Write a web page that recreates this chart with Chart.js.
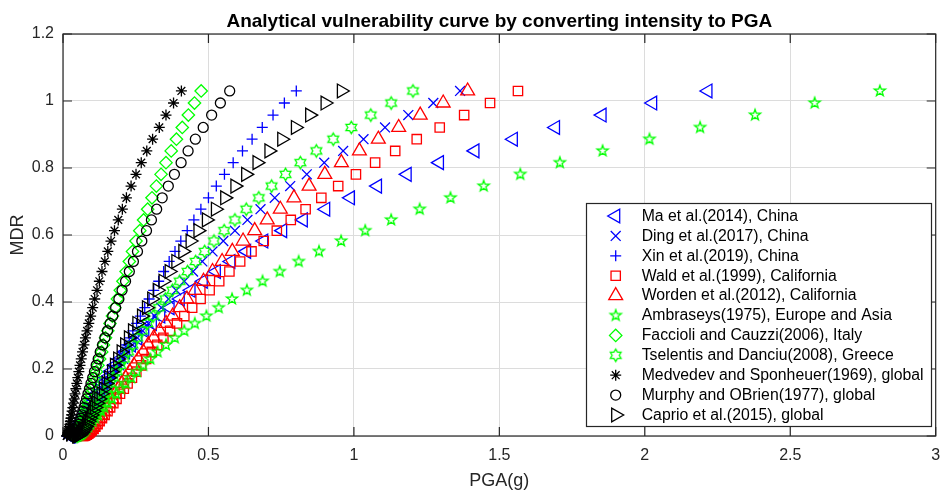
<!DOCTYPE html>
<html>
<head>
<meta charset="utf-8">
<title>Analytical vulnerability curve by converting intensity to PGA</title>
<script src="https://cdn.jsdelivr.net/npm/chart.js@4.4.0/dist/chart.umd.min.js"></script>
<style>
  html, body { margin: 0; padding: 0; background: #fff; }
  #chart { display: block; }
</style>
</head>
<body>
<canvas id="chart" width="945" height="490"></canvas>
<script>
// MDR for intensity 5.0 .. 10.0 (step 0.1), shared by every conversion
const mdr = [0.000, 0.000, 0.002, 0.004, 0.007, 0.011, 0.016, 0.021, 0.028, 0.035, 0.044, 0.053, 0.063, 0.074, 0.085, 0.098, 0.111, 0.126, 0.141, 0.157, 0.174, 0.192, 0.211, 0.230, 0.251, 0.272, 0.293, 0.314, 0.336, 0.358, 0.383, 0.409, 0.435, 0.462, 0.491, 0.521, 0.551, 0.582, 0.613, 0.645, 0.677, 0.711, 0.746, 0.781, 0.816, 0.851, 0.886, 0.921, 0.958, 0.994, 1.030];

// PGA (g) for the same intensities, one array per conversion
const pgaMa = [0.0249, 0.0272, 0.0298, 0.0326, 0.0356, 0.0390, 0.0426, 0.0466, 0.0510, 0.0558, 0.0611, 0.0668, 0.0731, 0.0800, 0.0875, 0.0957, 0.1047, 0.1145, 0.125, 0.137, 0.150, 0.164, 0.179, 0.196, 0.215, 0.235, 0.257, 0.281, 0.307, 0.336, 0.368, 0.403, 0.440, 0.482, 0.527, 0.577, 0.631, 0.690, 0.755, 0.826, 0.903, 0.988, 1.081, 1.183, 1.294, 1.416, 1.548, 1.693, 1.853, 2.027, 2.217];
const pgaDing = [0.0417, 0.0447, 0.0479, 0.0514, 0.0551, 0.0591, 0.0634, 0.0679, 0.0728, 0.0781, 0.0838, 0.0898, 0.0963, 0.1033, 0.1107, 0.1187, 0.1273, 0.1365, 0.146, 0.157, 0.168, 0.180, 0.193, 0.207, 0.222, 0.239, 0.256, 0.274, 0.294, 0.315, 0.338, 0.363, 0.389, 0.417, 0.447, 0.479, 0.514, 0.551, 0.591, 0.634, 0.679, 0.728, 0.781, 0.838, 0.898, 0.963, 1.033, 1.107, 1.187, 1.273, 1.365];
const pgaXin = [0.0581, 0.0612, 0.0645, 0.0680, 0.0717, 0.0756, 0.0796, 0.0839, 0.0884, 0.0932, 0.0982, 0.1035, 0.109, 0.115, 0.121, 0.128, 0.135, 0.142, 0.150, 0.158, 0.166, 0.175, 0.184, 0.194, 0.205, 0.216, 0.228, 0.240, 0.253, 0.266, 0.281, 0.296, 0.312, 0.329, 0.346, 0.365, 0.385, 0.405, 0.427, 0.450, 0.474, 0.500, 0.527, 0.555, 0.585, 0.617, 0.650, 0.685, 0.722, 0.761, 0.802];
const pgaWald = [0.0673, 0.0717, 0.0764, 0.0813, 0.0866, 0.0922, 0.0982, 0.105, 0.111, 0.119, 0.126, 0.134, 0.143, 0.153, 0.162, 0.173, 0.184, 0.196, 0.209, 0.222, 0.237, 0.252, 0.269, 0.286, 0.305, 0.324, 0.345, 0.368, 0.392, 0.417, 0.444, 0.473, 0.504, 0.537, 0.572, 0.609, 0.648, 0.690, 0.735, 0.783, 0.834, 0.888, 0.946, 1.007, 1.073, 1.142, 1.216, 1.295, 1.379, 1.468, 1.564];
const pgaWorden = [0.0619, 0.0659, 0.0702, 0.0747, 0.0794, 0.0846, 0.0900, 0.0957, 0.1019, 0.1084, 0.1154, 0.1228, 0.1307, 0.139, 0.148, 0.158, 0.168, 0.178, 0.190, 0.202, 0.215, 0.229, 0.244, 0.259, 0.276, 0.293, 0.312, 0.332, 0.354, 0.377, 0.401, 0.426, 0.454, 0.483, 0.514, 0.547, 0.582, 0.619, 0.659, 0.702, 0.747, 0.794, 0.846, 0.900, 0.957, 1.019, 1.084, 1.154, 1.228, 1.307, 1.391];
const pgaAmbraseys = [0.0445, 0.0484, 0.0525, 0.0571, 0.0620, 0.0674, 0.0732, 0.0795, 0.0864, 0.0939, 0.102, 0.111, 0.120, 0.131, 0.142, 0.154, 0.168, 0.182, 0.198, 0.215, 0.234, 0.254, 0.276, 0.300, 0.325, 0.354, 0.384, 0.417, 0.453, 0.493, 0.535, 0.581, 0.632, 0.686, 0.745, 0.810, 0.880, 0.956, 1.039, 1.128, 1.226, 1.332, 1.446, 1.572, 1.708, 1.855, 2.016, 2.190, 2.379, 2.584, 2.808];
const pgaFaccioli = [0.0409, 0.0430, 0.0451, 0.0474, 0.0498, 0.0523, 0.0549, 0.0577, 0.0606, 0.0636, 0.0668, 0.0702, 0.0737, 0.0774, 0.0813, 0.0854, 0.0897, 0.0942, 0.0989, 0.104, 0.109, 0.115, 0.120, 0.126, 0.133, 0.139, 0.146, 0.154, 0.1615, 0.170, 0.178, 0.187, 0.197, 0.206, 0.217, 0.228, 0.239, 0.251, 0.264, 0.277, 0.291, 0.306, 0.321, 0.337, 0.354, 0.372, 0.390, 0.410, 0.431, 0.452, 0.475];
const pgaTselentis = [0.0475, 0.0507, 0.0541, 0.0577, 0.0615, 0.0656, 0.0700, 0.0747, 0.0797, 0.0850, 0.0907, 0.0967, 0.103, 0.110, 0.117, 0.125, 0.134, 0.143, 0.152, 0.162, 0.173, 0.185, 0.197, 0.210, 0.224, 0.239, 0.255, 0.272, 0.290, 0.310, 0.330, 0.352, 0.376, 0.401, 0.428, 0.456, 0.487, 0.519, 0.554, 0.591, 0.630, 0.673, 0.717, 0.765, 0.816, 0.871, 0.929, 0.991, 1.058, 1.128, 1.203];
const pgaMedvedev = [0.0127, 0.0136, 0.0146, 0.0157, 0.0168, 0.0180, 0.0193, 0.0207, 0.0222, 0.0237, 0.0254, 0.0273, 0.0292, 0.0313, 0.0336, 0.0360, 0.0386, 0.0413, 0.0443, 0.0475, 0.0509, 0.0545, 0.0585, 0.0627, 0.0672, 0.0720, 0.0771, 0.0827, 0.0886, 0.0950, 0.102, 0.109, 0.117, 0.125, 0.134, 0.144, 0.154, 0.165, 0.177, 0.190, 0.204, 0.218, 0.234, 0.251, 0.269, 0.288, 0.308, 0.331, 0.354, 0.380, 0.407];
const pgaMurphy = [0.0322, 0.0341, 0.0362, 0.0383, 0.0406, 0.0430, 0.0455, 0.0482, 0.0511, 0.0541, 0.0573, 0.0607, 0.0643, 0.0681, 0.0722, 0.0764, 0.0810, 0.0858, 0.0909, 0.0962, 0.102, 0.108, 0.114, 0.121, 0.128, 0.136, 0.144, 0.153, 0.162, 0.171, 0.181, 0.192, 0.203, 0.215, 0.228, 0.242, 0.256, 0.271, 0.287, 0.304, 0.322, 0.341, 0.362, 0.383, 0.406, 0.430, 0.455, 0.482, 0.511, 0.541, 0.573];
const pgaCaprio = [0.0471, 0.0500, 0.0531, 0.0564, 0.0599, 0.0636, 0.0676, 0.0718, 0.0762, 0.0810, 0.0860, 0.0913, 0.0970, 0.103, 0.109, 0.116, 0.123, 0.131, 0.139, 0.148, 0.157, 0.167, 0.177, 0.188, 0.200, 0.212, 0.225, 0.239, 0.254, 0.270, 0.287, 0.305, 0.324, 0.344, 0.365, 0.388, 0.412, 0.437, 0.464, 0.493, 0.524, 0.556, 0.591, 0.628, 0.667, 0.708, 0.752, 0.799, 0.848, 0.901, 0.957];

const seriesNames = [
  'Ma et al.(2014), China',
  'Ding et al.(2017), China',
  'Xin et al.(2019), China',
  'Wald et al.(1999), California',
  'Worden et al.(2012), California',
  'Ambraseys(1975), Europe and Asia',
  'Faccioli and Cauzzi(2006), Italy',
  'Tselentis and Danciu(2008), Greece',
  'Medvedev and Sponheuer(1969), global',
  'Murphy and OBrien(1977), global',
  'Caprio et al.(2015), global'
];
const pgaSeries = [pgaMa, pgaDing, pgaXin, pgaWald, pgaWorden, pgaAmbraseys, pgaFaccioli, pgaTselentis, pgaMedvedev, pgaMurphy, pgaCaprio];
const xTicks = [0, 0.5, 1, 1.5, 2, 2.5, 3];
const yTicks = [0, 0.2, 0.4, 0.6, 0.8, 1, 1.2];

const FONT = '"Liberation Sans", Arial, Helvetica, sans-serif';
const AXIS_COLOR = '#262626';

// outlined star marker (pentagram / hexagram) drawn once into a small canvas
function starMarker(points, outer, inner, color) {
  const size = Math.ceil(outer * 2 + 4);
  const c = document.createElement('canvas');
  c.width = size;
  c.height = size;
  const g = c.getContext('2d');
  g.strokeStyle = color;
  g.lineWidth = 1.3;
  g.beginPath();
  for (let i = 0; i < points * 2; i++) {
    const r = i % 2 === 0 ? outer : inner;
    const a = -Math.PI / 2 + i * Math.PI / points;
    const px = size / 2 + r * Math.cos(a);
    const py = size / 2 + r * Math.sin(a);
    if (i === 0) g.moveTo(px, py); else g.lineTo(px, py);
  }
  g.closePath();
  g.stroke();
  return c;
}

const markers = [
  { color: '#0000ff', style: 'triangle', rotation: -90, radius: 8 },
  { color: '#0000ff', style: 'crossRot', rotation: 0, radius: 7 },
  { color: '#0000ff', style: 'cross', rotation: 0, radius: 5.5 },
  { color: '#ff0000', style: 'rect', rotation: 0, radius: 6.6 },
  { color: '#ff0000', style: 'triangle', rotation: 0, radius: 8 },
  { color: '#00ff00', style: starMarker(5, 5.8, 2.3, '#00ff00'), rotation: 0, radius: 6 },
  { color: '#00ff00', style: 'rectRot', rotation: 0, radius: 6.2 },
  { color: '#00ff00', style: starMarker(6, 6.2, 3.58, '#00ff00'), rotation: 0, radius: 6 },
  { color: '#000000', style: 'star', rotation: 0, radius: 5.5 },
  { color: '#000000', style: 'circle', rotation: 0, radius: 5 },
  { color: '#000000', style: 'triangle', rotation: 90, radius: 8 }
];

const datasets = seriesNames.map((name, i) => ({
  label: name,
  data: pgaSeries[i].map((x, j) => ({ x: x, y: mdr[j] })),
  showLine: false,
  pointStyle: markers[i].style,
  pointRotation: markers[i].rotation,
  pointRadius: markers[i].radius,
  pointBorderColor: markers[i].color,
  pointBackgroundColor: 'rgba(0,0,0,0)',
  pointBorderWidth: 1.3,
  clip: false,
  order: seriesNames.length - i
}));

// matlab style tick text: 1 not 1.0
const tickText = v => String(+Number(v).toFixed(2));

// box and inward tick marks on all four sides, under the markers
const axesBox = {
  id: 'axesBox',
  beforeDatasetsDraw(chart) {
    const { ctx, chartArea: a, scales } = chart;
    ctx.save();
    ctx.strokeStyle = AXIS_COLOR;
    ctx.lineWidth = 1.2;
    ctx.strokeRect(a.left, a.top, a.right - a.left, a.bottom - a.top);
    ctx.beginPath();
    xTicks.forEach(v => {
      const px = scales.x.getPixelForValue(v);
      ctx.moveTo(px, a.bottom); ctx.lineTo(px, a.bottom - 9);
      ctx.moveTo(px, a.top); ctx.lineTo(px, a.top + 9);
    });
    yTicks.forEach(v => {
      const py = scales.y.getPixelForValue(v);
      ctx.moveTo(a.left, py); ctx.lineTo(a.left + 9, py);
      ctx.moveTo(a.right, py); ctx.lineTo(a.right - 9, py);
    });
    ctx.stroke();
    ctx.restore();
  },
  afterDraw(chart) {
    const { ctx, chartArea: a } = chart;
    const midX = (a.left + a.right) / 2;
    ctx.save();
    ctx.fillStyle = '#000';
    ctx.textAlign = 'center';
    ctx.textBaseline = 'alphabetic';
    ctx.font = 'bold 19px ' + FONT;
    ctx.fillText('Analytical vulnerability curve by converting intensity to PGA', midX, 26.5);

    ctx.fillStyle = AXIS_COLOR;
    ctx.font = '18px ' + FONT;
    ctx.fillText('PGA(g)', midX, 486);
    ctx.save();
    ctx.translate(23, (a.top + a.bottom) / 2);
    ctx.rotate(-Math.PI / 2);
    ctx.fillText('MDR', 0, 0);
    ctx.restore();

    // legend
    const box = { x: 586.5, y: 203.5, w: 345, h: 223 };
    ctx.fillStyle = '#fff';
    ctx.fillRect(box.x, box.y, box.w, box.h);
    ctx.strokeStyle = AXIS_COLOR;
    ctx.lineWidth = 1.2;
    ctx.strokeRect(box.x, box.y, box.w, box.h);
    ctx.font = '15.8px ' + FONT;
    ctx.textAlign = 'left';
    ctx.textBaseline = 'middle';
    seriesNames.forEach((name, i) => {
      const rowY = 216 + i * 19.9;
      const m = markers[i];
      ctx.save();
      ctx.strokeStyle = m.color;
      ctx.fillStyle = 'rgba(0,0,0,0)';
      ctx.lineWidth = 1.3;
      Chart.helpers.drawPoint(ctx, { pointStyle: m.style, rotation: m.rotation, radius: m.radius, borderWidth: 1.3 }, 615.7, rowY);
      ctx.restore();
      ctx.fillStyle = '#000';
      ctx.fillText(name, 641.7, rowY + 0.5);
    });
    ctx.restore();
  }
};

new Chart(document.getElementById('chart'), {
  type: 'scatter',
  data: { datasets },
  options: {
    responsive: false,
    animation: false,
    events: [],
    layout: { padding: { top: 34, right: 2, left: 0, bottom: 0 } },
    plugins: { legend: { display: false }, tooltip: { enabled: false } },
    scales: {
      x: {
        type: 'linear',
        min: 0,
        max: 3,
        afterBuildTicks: s => { s.ticks = xTicks.map(v => ({ value: v })); },
        ticks: { color: AXIS_COLOR, font: { family: FONT, size: 16 }, padding: 10, maxRotation: 0, autoSkip: false, callback: tickText },
        grid: { color: '#dcdcdc', lineWidth: 1, drawTicks: false },
        border: { display: false },
        afterFit: s => { s.height = 54; s.paddingLeft = 0; s.paddingRight = 0; }
      },
      y: {
        type: 'linear',
        min: 0,
        max: 1.2,
        afterBuildTicks: s => { s.ticks = yTicks.map(v => ({ value: v })); },
        ticks: { color: AXIS_COLOR, font: { family: FONT, size: 16 }, padding: 9, callback: tickText },
        grid: { color: '#dcdcdc', lineWidth: 1, drawTicks: false },
        border: { display: false },
        afterFit: s => { s.width = 63; s.paddingTop = 0; s.paddingBottom = 0; }
      }
    }
  },
  plugins: [axesBox]
});
</script>
</body>
</html>
